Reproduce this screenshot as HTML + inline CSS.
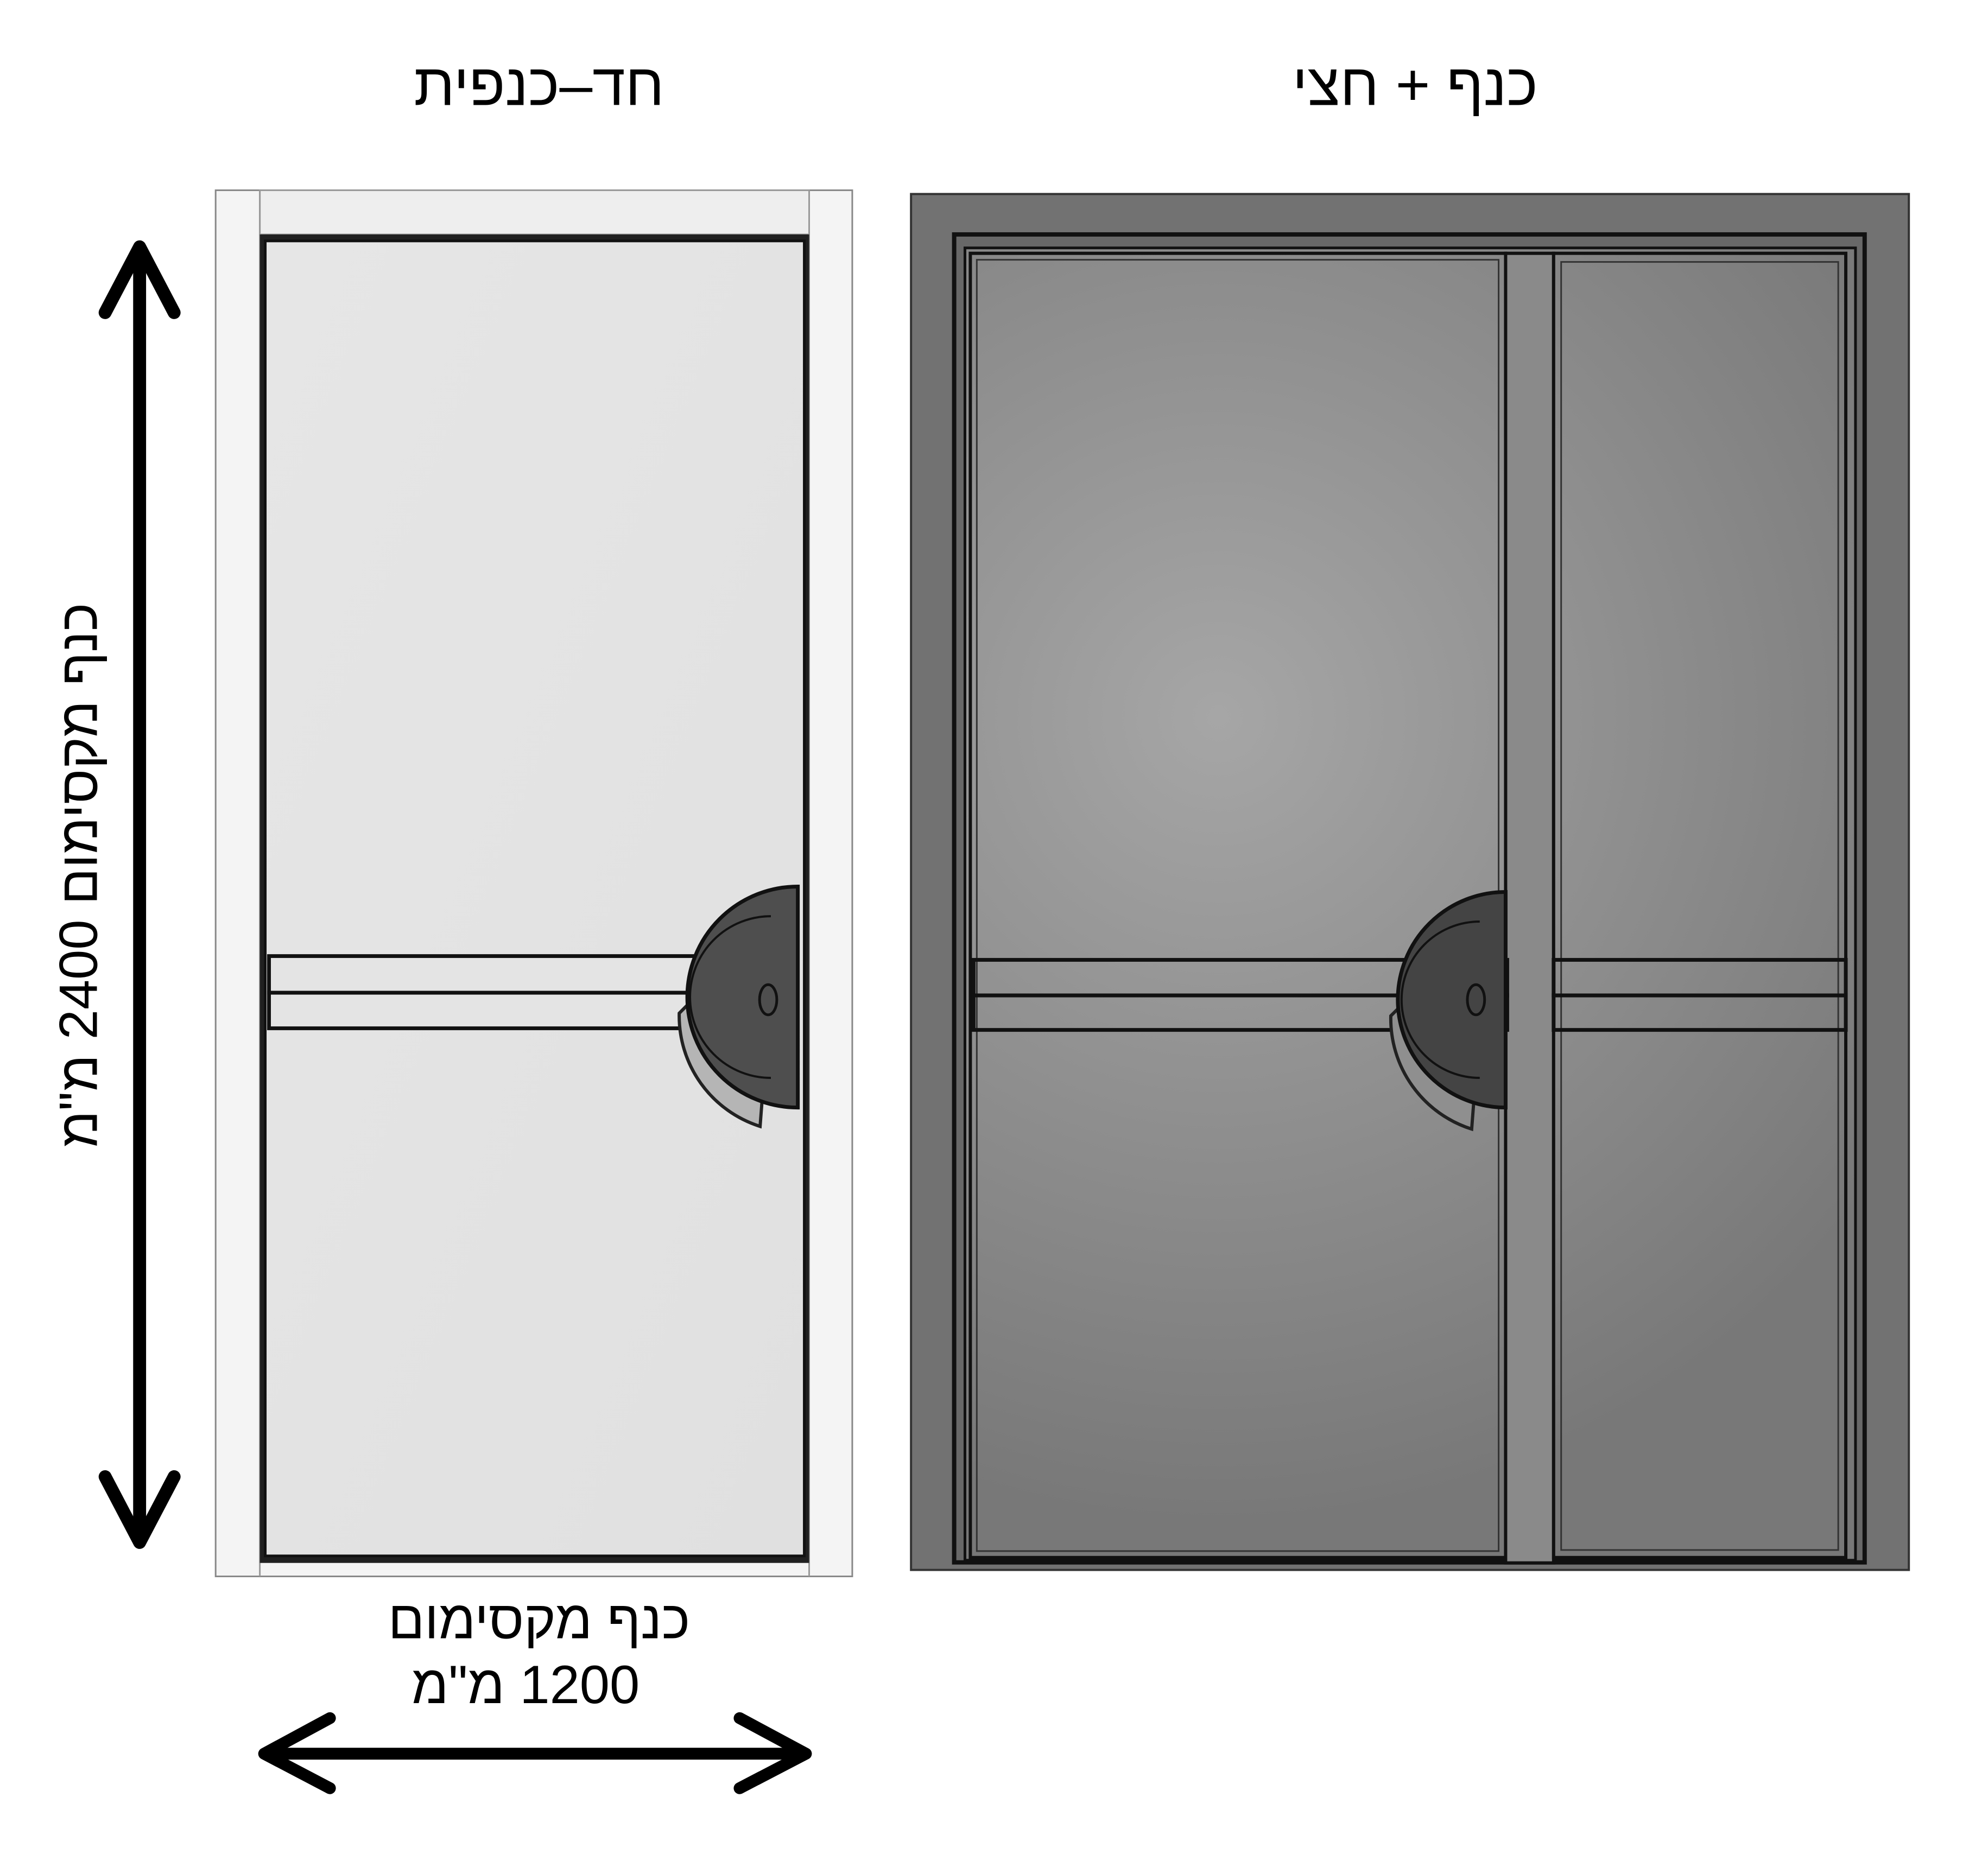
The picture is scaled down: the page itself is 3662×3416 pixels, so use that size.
<!DOCTYPE html>
<html><head><meta charset="utf-8"><style>
html,body{margin:0;padding:0;background:#fff;}
svg{display:block;}
text{font-family:"Liberation Sans","Noto Sans CJK JP",sans-serif;fill:#000;}
</style></head><body>
<svg width="3662" height="3416" viewBox="0 0 3662 3416" xmlns="http://www.w3.org/2000/svg">
<defs>
<radialGradient id="g" cx="2260" cy="1330" r="1500" gradientUnits="userSpaceOnUse">
<stop offset="0" stop-color="#a6a6a6"/><stop offset="1" stop-color="#787878"/>
</radialGradient>
<linearGradient id="lg" x1="0" y1="0" x2="1" y2="1">
<stop offset="0" stop-color="#e6e6e6"/><stop offset="1" stop-color="#e0e0e0"/>
</linearGradient>
</defs>
<g transform="scale(0.993)">
<!-- titles -->
<text x="1000" y="195" font-size="110" text-anchor="middle" direction="rtl">חד–כנפית</text>
<text x="2625" y="195" font-size="110" text-anchor="middle" direction="rtl">כנף + חצי</text>

<!-- left door -->
<rect x="400" y="353" width="1181" height="2572" fill="#f4f4f4" stroke="#888" stroke-width="3"/>
<rect x="482" y="353" width="1019" height="82" fill="#eeeeee" stroke="#999" stroke-width="3"/>
<line x1="482" y1="353" x2="482" y2="2925" stroke="#999" stroke-width="3"/>
<line x1="1501" y1="353" x2="1501" y2="2925" stroke="#999" stroke-width="3"/>
<rect x="482" y="435" width="1019" height="2465" fill="#202020"/>
<rect x="492" y="447" width="1000" height="2440" fill="url(#lg)" stroke="#111" stroke-width="5"/>
<rect x="499" y="1774" width="810" height="68" fill="#e4e4e4" stroke="#111" stroke-width="7"/>
<rect x="499" y="1842" width="810" height="66" fill="#e4e4e4" stroke="#111" stroke-width="7"/>
<path d="M1420 1960 A190 190 0 0 1 1280 1860 L1260 1880 A215 215 0 0 0 1410 2090 Z" fill="#b5b5b5" stroke="#222" stroke-width="6"/>
<path d="M1480 1645 A205 205 0 0 0 1480 2055 Z" fill="#4e4e4e" stroke="#111" stroke-width="7"/>
<path d="M1430 1700 A150 150 0 0 0 1430 2000" fill="none" stroke="#111" stroke-width="4"/>
<ellipse cx="1425" cy="1855" rx="16" ry="28" fill="none" stroke="#111" stroke-width="5"/>

<!-- right door -->
<rect x="1690" y="360" width="1851" height="2553" fill="#727272" stroke="#333" stroke-width="4"/>
<rect x="1770" y="435" width="1689" height="2464" fill="#686868" stroke="#111" stroke-width="8"/>
<rect x="1790" y="460" width="1652" height="2435" fill="url(#g)" stroke="#111" stroke-width="5"/>
<rect x="1800" y="470" width="993" height="2420" fill="url(#g)" stroke="#111" stroke-width="6"/>
<rect x="2793" y="470" width="89" height="2430" fill="#8a8a8a" stroke="#111" stroke-width="6"/>
<rect x="2882" y="470" width="542" height="2420" fill="url(#g)" stroke="#111" stroke-width="6"/>
<rect x="2896" y="486" width="514" height="2390" fill="none" stroke="#333" stroke-width="3"/>
<rect x="1812" y="482" width="968" height="2396" fill="none" stroke="#333" stroke-width="3"/>
<rect x="1806" y="1781" width="990" height="66" fill="none" stroke="#111" stroke-width="7"/>
<rect x="1806" y="1847" width="990" height="64" fill="none" stroke="#111" stroke-width="7"/>
<rect x="2882" y="1781" width="542" height="66" fill="none" stroke="#111" stroke-width="7"/>
<rect x="2882" y="1847" width="542" height="64" fill="none" stroke="#111" stroke-width="7"/>
<path d="M2740 1965 A190 190 0 0 1 2600 1865 L2580 1885 A215 215 0 0 0 2730 2095 Z" fill="#8f8f8f" stroke="#222" stroke-width="6"/>
<path d="M2793 1655 A200 200 0 0 0 2793 2055 Z" fill="#444" stroke="#111" stroke-width="7"/>
<path d="M2745 1710 A145 145 0 0 0 2745 2000" fill="none" stroke="#111" stroke-width="4"/>
<ellipse cx="2738" cy="1855" rx="16" ry="28" fill="none" stroke="#111" stroke-width="5"/>

<!-- vertical arrow -->
<line x1="259" y1="470" x2="259" y2="2850" stroke="#000" stroke-width="24"/>
<polyline points="195,580 259,458 323,580" fill="none" stroke="#000" stroke-width="24" stroke-linecap="round" stroke-linejoin="round"/>
<polyline points="195,2740 259,2862 323,2740" fill="none" stroke="#000" stroke-width="24" stroke-linecap="round" stroke-linejoin="round"/>
<text transform="translate(146,1624) rotate(-90)" x="0" y="34" font-size="100" text-anchor="middle" direction="rtl">כנף מקסימום 2400 מ"מ</text>

<!-- horizontal arrow -->
<line x1="490" y1="3254" x2="1495" y2="3254" stroke="#000" stroke-width="22"/>
<polyline points="612,3188 490,3254 612,3318" fill="none" stroke="#000" stroke-width="22" stroke-linecap="round" stroke-linejoin="round"/>
<polyline points="1372,3188 1495,3254 1372,3318" fill="none" stroke="#000" stroke-width="22" stroke-linecap="round" stroke-linejoin="round"/>
<text x="1000" y="3040" font-size="100" text-anchor="middle" direction="rtl">כנף מקסימום</text>
<text x="975" y="3160" font-size="100" text-anchor="middle" direction="rtl">1200 מ"מ</text>
</g>
</svg>
</body></html>
